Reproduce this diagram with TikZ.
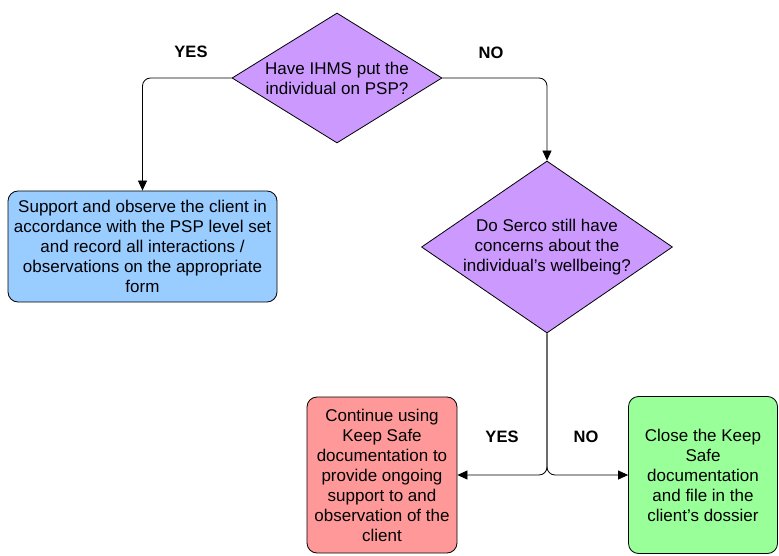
\documentclass[tikz,border=0pt]{standalone}
\usepackage{fontspec}
\setmainfont{Liberation Sans}
\usetikzlibrary{shapes.geometric,arrows.meta}
\definecolor{dpurple}{HTML}{CC99FF}
\definecolor{bblue}{HTML}{99CCFF}
\definecolor{rred}{HTML}{FF9999}
\definecolor{ggreen}{HTML}{99FF99}
\tikzset{
  txt/.style={font=\fontsize{17}{20}\selectfont, align=center, inner sep=0pt},
  decision/.style={diamond, draw=black, line width=0.8pt, fill=dpurple, inner sep=0pt},
  stepbox/.style={draw=black, line width=0.8pt, rounded corners=10pt, txt, inner sep=0pt},
  lbl/.style={font=\fontsize{16.5}{20}\selectfont\bfseries, inner sep=0pt},
  arr/.style={draw=black, line width=0.8pt, rounded corners=8pt, -{Triangle[length=10pt,width=9pt]}}
}
\begin{document}
\begin{tikzpicture}[x=1pt,y=-1pt]
\useasboundingbox (0,0) rectangle (779,556);
% decisions
\node[decision, minimum width=210pt, minimum height=130pt] (d1) at (337,78) {};
\node[txt] (d1t) at (d1) {Have IHMS put the\\individual on PSP?};
\node[decision, minimum width=251pt, minimum height=172pt] (d2) at (547,247) {};
\node[txt] (d2t) at (d2) {Do Serco still have\\concerns about the\\individual’s wellbeing?};
% boxes
\node[stepbox, fill=bblue, minimum width=269pt, minimum height=111pt] (blue) at (142.5,246.5)
  {Support and observe the client in\\accordance with the PSP level set\\and record all interactions /\\observations on the appropriate\\form};
\node[stepbox, fill=rred, minimum width=150pt, minimum height=156pt] (red) at (382,475)
  {Continue using\\Keep Safe\\documentation to\\provide ongoing\\support to and\\observation of the\\client};
\node[stepbox, fill=ggreen, minimum width=149pt, minimum height=157pt] (green) at (703,475)
  {Close the Keep\\Safe\\documentation\\and file in the\\client’s dossier};
% connectors
\draw[arr] (d1.west) -| (blue.north);
\draw[arr] (d1.east) -| (d2.north);
\draw[arr] (d2.south) |- (red.east);
\draw[arr] (d2.south) |- (green.west);
% labels
\node[lbl] (yes1) at (191,52) {YES};
\node[lbl] (no1) at (491,53) {NO};
\node[lbl] (yes2) at (502,437) {YES};
\node[lbl] (no2) at (586,437) {NO};
\end{tikzpicture}
\end{document}
